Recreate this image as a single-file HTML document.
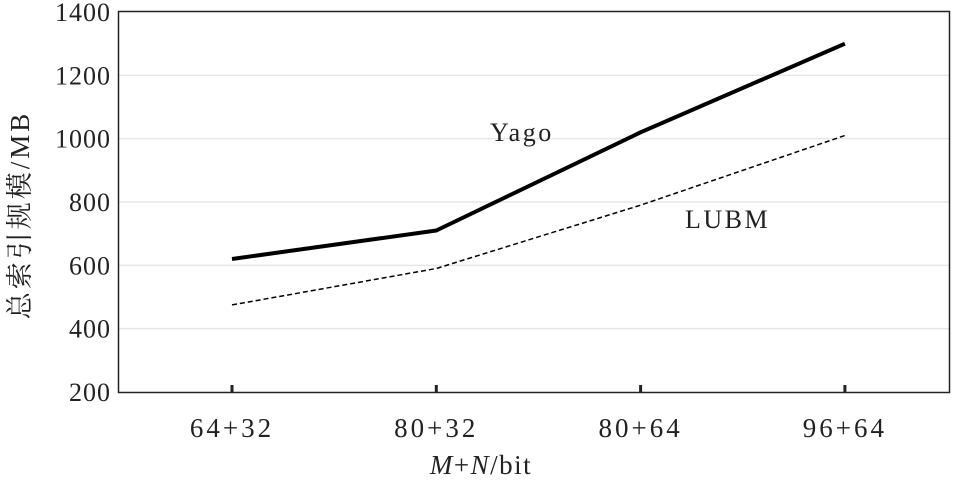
<!DOCTYPE html>
<html><head><meta charset="utf-8"><style>
html,body{margin:0;padding:0;background:#fff;}
svg{display:block;font-family:"Liberation Serif","Noto Serif CJK SC",serif;}
</style></head><body>
<svg id="chart" width="955" height="480" viewBox="0 0 955 480" xmlns="http://www.w3.org/2000/svg">
<g id="grid"></g>
<rect x="118.5" y="11.5" width="831" height="381" fill="none" stroke="#222" stroke-width="1.5"/>
<g id="ticks"></g>
<g id="series"></g>
<text x="490" y="141" font-size="26" letter-spacing="2.5" fill="#222">Yago</text>
<text x="685" y="228" font-size="26" letter-spacing="2.5" fill="#222">LUBM</text>
<text x="481" y="474" font-size="27" letter-spacing="1.5" text-anchor="middle" fill="#222"><tspan font-style="italic">M</tspan>+<tspan font-style="italic">N</tspan>/bit</text>
<text transform="translate(29,215) rotate(-90)" font-size="27" letter-spacing="3" text-anchor="middle" fill="#222">总索引规模/MB</text>
</svg>
<script>
const categories = ["64+32","80+32","80+64","96+64"];
const yagoValues = [620, 710, 1020, 1300];
const lubmValues = [475, 590, 790, 1010];
const yTicks = [200,400,600,800,1000,1200,1400];
const NS="http://www.w3.org/2000/svg";
const xPos = i => 232 + i*204.3;
const yPos = v => 392 - (v-200)*(380/1200);
const grid=document.getElementById('grid'), ticks=document.getElementById('ticks'), ser=document.getElementById('series');
function mk(tag,attrs,parent){const e=document.createElementNS(NS,tag);for(const k in attrs)e.setAttribute(k,attrs[k]);parent.appendChild(e);return e;}
yTicks.forEach(t=>{
  if(t>200&&t<1400){
    const l=mk('line',{x1:119,x2:949,y1:yPos(t),y2:yPos(t),stroke:'#e6e6e6','stroke-width':1.5},grid);
    
    
  }
  const tx=mk('text',{x:111,y:yPos(t)+9,'font-size':26,'letter-spacing':1,'text-anchor':'end',fill:'#222'},ticks);
  tx.textContent=t;
  
  
});
categories.forEach((c,i)=>{
  const tk=mk('line',{x1:xPos(i),x2:xPos(i),y1:392,y2:385,stroke:'#222','stroke-width':3},ticks);
  
  
  const tx=mk('text',{x:xPos(i),y:437,'font-size':27,'letter-spacing':3,'text-anchor':'middle',fill:'#222'},ticks);
  tx.textContent=c;
  
  
});
const py=mk('polyline',{points:yagoValues.map((v,i)=>xPos(i)+','+yPos(v)).join(' '),fill:'none',stroke:'#000','stroke-width':4,'stroke-linejoin':'round'},ser);


const pl=mk('polyline',{points:lubmValues.map((v,i)=>xPos(i)+','+yPos(v)).join(' '),fill:'none',stroke:'#000','stroke-width':1.5,'stroke-dasharray':'5,3'},ser);


</script>
</body></html>
